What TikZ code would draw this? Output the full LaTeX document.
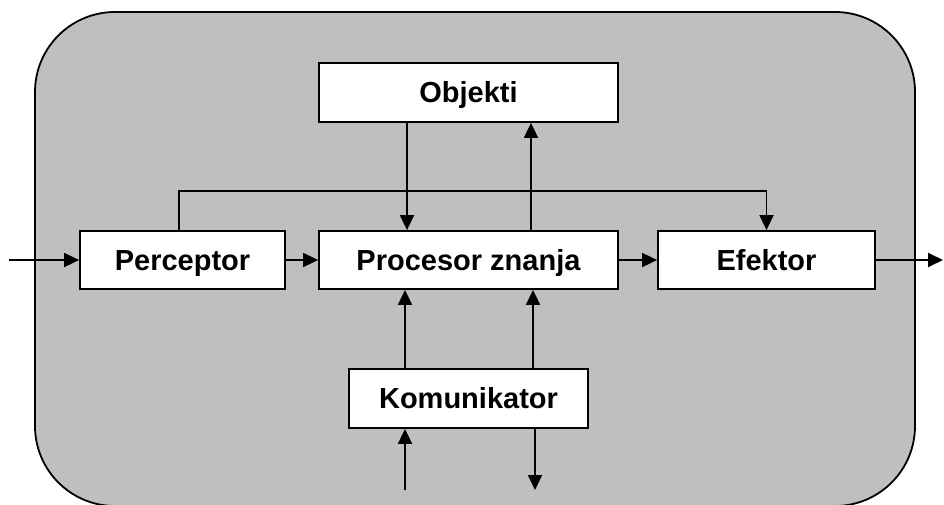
\documentclass[tikz,border=0pt]{standalone}
\usepackage{fontspec}
\setmainfont{Liberation Sans}
\usetikzlibrary{arrows.meta}
\begin{document}
\begin{tikzpicture}[x=1pt,y=-1pt,
  blk/.style={draw=black,line width=1.8pt,fill=white,inner sep=0pt,
    text height=20.8pt,text depth=0pt,
    font=\fontsize{29}{34}\selectfont\bfseries},
  arr/.style={line width=1.8pt,-{Triangle[length=15pt,width=14pt]}},
  ln/.style={line width=1.8pt}]
\useasboundingbox (0,0) rectangle (944,504);
\draw[line width=1.8pt,fill=black!25,rounded corners=80pt] (35,12) rectangle (915,506);
\node[blk,minimum width=299pt,minimum height=59pt] (obj) at (468.5,92.5) {Objekti};
\node[blk,minimum width=205pt,minimum height=58pt] (perc) at (182.5,260) {Perceptor};
\node[blk,minimum width=299pt,minimum height=58pt] (proc) at (468.5,260) {Procesor znanja};
\node[blk,minimum width=217pt,minimum height=58pt] (efek) at (766.5,260) {Efektor};
\node[blk,minimum width=239pt,minimum height=59pt] (kom) at (468.5,398.5) {Komunikator};
\coordinate (in) at (9,260);
\coordinate (out) at (943,260);
\coordinate (kin) at (405,490);
\coordinate (kout) at (535,490);
\draw[arr] (in) -- (perc.west);
\draw[arr] (perc.east) -- (proc.west);
\draw[arr] (proc.east) -- (efek.west);
\draw[arr] (efek.east) -- (out);
\draw[arr] ([xshift=-61.5pt]obj.south) -- ([xshift=-61.5pt]proc.north);
\draw[arr] ([xshift=62.5pt]proc.north) -- ([xshift=62.5pt]obj.south);
\draw[arr] ([xshift=-3.5pt]perc.north) -- ++(0,-39) -| (efek.north);
\draw[arr] ([xshift=-63.5pt]kom.north) -- ([xshift=-63.5pt]proc.south);
\draw[arr] ([xshift=64.5pt]kom.north) -- ([xshift=64.5pt]proc.south);
\draw[arr] (kin) -- (kin |- kom.south);
\draw[arr] (kout |- kom.south) -- (kout);
\end{tikzpicture}
\end{document}
